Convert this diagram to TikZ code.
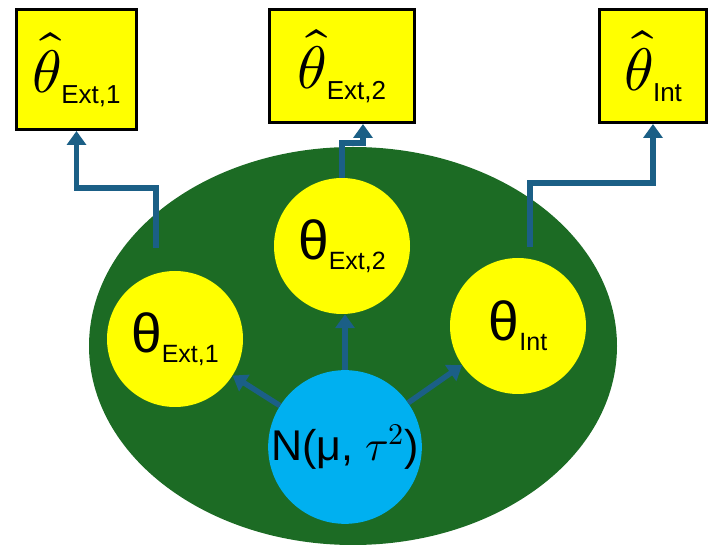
\documentclass[tikz,border=0pt]{standalone}
\usepackage{fontspec}
\usepackage{unicode-math}
\setmainfont{Liberation Sans}
\setmathfont{Latin Modern Math}
\usetikzlibrary{arrows.meta,calc,positioning}
\definecolor{plategreen}{HTML}{1C6B24}
\definecolor{thetayellow}{HTML}{FFFF00}
\definecolor{hyperblue}{HTML}{00B0F0}
\definecolor{flowblue}{HTML}{1B5F86}
\tikzset{
  thetacircle/.style={circle, fill=thetayellow, minimum size=136pt, inner sep=0pt,
    align=center},
  hypercircle/.style={circle, fill=hyperblue, minimum size=150pt, inner sep=0pt},
  estbox/.style={draw=black, fill=thetayellow, line width=3pt, inner sep=0pt,
    minimum height=113pt},
  flow/.style={-{Triangle[length=14pt,width=19pt]}, draw=flowblue, line width=5.5pt}
}
\newcommand{\bigtheta}[1]{{\fontsize{55}{55}\selectfont θ}\raisebox{-10pt}{\fontsize{25}{25}\selectfont #1}}
\newcommand{\hattheta}[1]{{\fontsize{60}{60}\selectfont$\widehat{\theta}$}\raisebox{-11pt}{\fontsize{26}{26}\selectfont #1}}

\begin{document}
\begin{tikzpicture}[x=1pt,y=1pt]
  \useasboundingbox (0,0) rectangle (710,546);
  % exchangeability plate
  \fill[plategreen] (353,200) ellipse [x radius=264, y radius=199];

  \node[thetacircle] (ext1) at (175,207) {\bigtheta{Ext,1}};
  \node[thetacircle] (ext2) at (342,300) {\bigtheta{Ext,2}};
  \node[thetacircle] (int)  at (518,220) {\bigtheta{Int}};
  \node[hypercircle] (hyper) at (345,99)
    {\fontsize{43}{43}\selectfont N(μ, $\tau^2$)};

  \node[estbox, minimum width=120pt, minimum height=120pt] (est1) at (76.5,476.5)
    {\hattheta{Ext,1}};
  \node[estbox, minimum width=145pt] (est2) at (342,480) {\hattheta{Ext,2}};
  \node[estbox, minimum width=107pt] (estint) at (653,480) {\hattheta{Int}};

  \draw[flow] (hyper) -- (ext1);
  \draw[flow] (hyper.north) -- (hyper.north |- ext2.south);
  \draw[flow] (hyper) -- (int);

  \coordinate (out1) at (156,298);
  \coordinate (outint) at (530,299);
  \draw[flow] (out1) -- ++(0,60) -| (est1.south);
  \draw[flow] (ext2.north) -- ++(0,35) -| ([xshift=21pt]est2.south);
  \draw[flow] (outint) -- ++(0,64) -| (estint.south);
\end{tikzpicture}
\end{document}
